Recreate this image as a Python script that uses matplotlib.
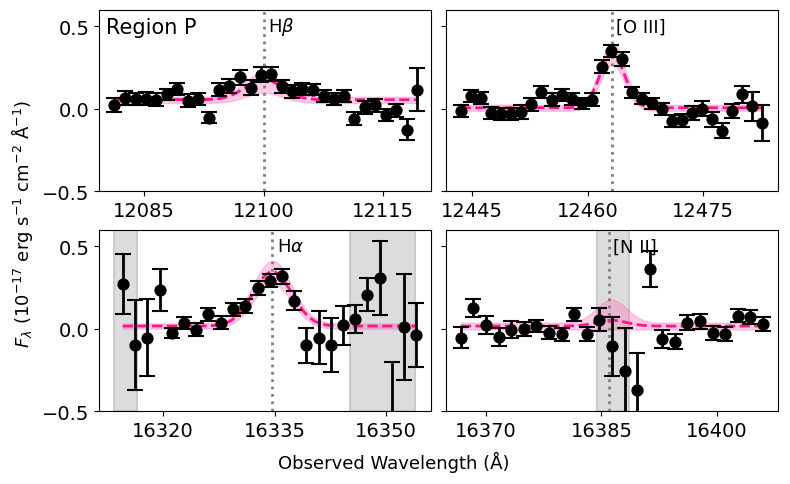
import numpy as np
import matplotlib
matplotlib.use('Agg')
import matplotlib.pyplot as plt

font_tick = 14
font_label = 13
font_line = 13

# ---- data ----
wave_hb = [12081.22, 12082.56, 12083.91, 12085.21, 12086.51, 12087.82, 12089.12, 12090.46,
           12091.76, 12093.11, 12094.41, 12095.71, 12097.06, 12098.36, 12099.66, 12100.97,
           12102.27, 12103.57, 12104.87, 12106.22, 12107.56, 12108.87, 12110.17, 12111.43,
           12112.73, 12114.03, 12115.38, 12116.68, 12117.98, 12119.33]
flux_hb = [0.024, 0.065, 0.06, 0.06, 0.056, 0.087, 0.121, 0.05, 0.06, -0.054, 0.115, 0.137,
           0.19, 0.127, 0.206, 0.21, 0.137, 0.107, 0.121, 0.117, 0.077, 0.06, 0.077, -0.06,
           0.01, 0.02, -0.04, -0.01, -0.127, 0.115]
err_hb = [0.043, 0.04, 0.037, 0.04, 0.04, 0.035, 0.036, 0.038, 0.035, 0.035, 0.04, 0.043,
          0.046, 0.046, 0.045, 0.043, 0.04, 0.04, 0.035, 0.035, 0.036, 0.036, 0.037, 0.038,
          0.04, 0.038, 0.037, 0.04, 0.063, 0.13]

wave_o3 = [12443.53, 12444.83, 12446.12, 12447.46, 12448.75, 12450.09, 12451.38, 12452.72,
           12454.01, 12455.34, 12456.64, 12457.93, 12459.22, 12460.52, 12461.81, 12463.10,
           12464.44, 12465.73, 12467.03, 12468.36, 12469.70, 12470.99, 12472.28, 12473.58,
           12474.87, 12476.16, 12477.46, 12478.75, 12480.04, 12481.34, 12482.63]
flux_o3 = [-0.014, 0.077, 0.065, -0.024, -0.03, -0.03, -0.02, 0.028, 0.1, 0.054, 0.085, 0.06,
           0.034, 0.054, 0.256, 0.349, 0.302, 0.1, 0.06, 0.034, 0.0, -0.075, -0.07, -0.026,
           0.0, -0.065, -0.133, -0.014, 0.087, 0.014, -0.085]
err_o3 = [0.035, 0.036, 0.037, 0.037, 0.037, 0.037, 0.04, 0.04, 0.036, 0.04, 0.035, 0.036,
          0.034, 0.04, 0.038, 0.036, 0.04, 0.035, 0.033, 0.034, 0.036, 0.035, 0.038, 0.045,
          0.047, 0.043, 0.045, 0.044, 0.05, 0.09, 0.11]

wave_ha = [16314.58, 16316.28, 16317.90, 16319.55, 16321.21, 16322.82, 16324.43, 16326.09,
           16327.75, 16329.40, 16331.06, 16332.72, 16334.33, 16335.94, 16337.64, 16339.26,
           16340.91, 16342.57, 16344.18, 16345.80, 16347.41, 16349.11, 16350.72, 16352.38,
           16354.03]
flux_ha = [0.27, -0.10, -0.054, 0.236, -0.026, 0.036, -0.006, 0.087, 0.036, 0.117, 0.137,
           0.246, 0.292, 0.319, 0.171, -0.10, -0.054, -0.10, 0.02, 0.06, 0.206, 0.31, -0.62,
           0.01, -0.04]
err_ha = [0.183, 0.274, 0.234, 0.128, 0.03, 0.038, 0.038, 0.04, 0.04, 0.041, 0.042, 0.043,
          0.04, 0.045, 0.056, 0.107, 0.16, 0.163, 0.12, 0.084, 0.1, 0.224, 0.42, 0.32, 0.195]

wave_n2 = [16366.76, 16368.40, 16370.09, 16371.69, 16373.33, 16374.97, 16376.57, 16378.21,
           16379.86, 16381.46, 16383.10, 16384.74, 16386.39, 16388.03, 16389.63, 16391.27,
           16392.91, 16394.56, 16396.16, 16397.80, 16399.44, 16401.09, 16402.73, 16404.33,
           16405.97]
flux_n2 = [-0.054, 0.125, 0.02, -0.05, -0.006, 0.0, 0.016, -0.024, -0.034, 0.087, -0.034,
           0.056, -0.107, -0.258, -0.373, 0.363, -0.06, -0.08, 0.036, 0.044, -0.026, -0.03,
           0.08, 0.07, 0.03]
err_n2 = [0.065, 0.055, 0.055, 0.052, 0.05, 0.043, 0.038, 0.04, 0.038, 0.04, 0.043, 0.07,
          0.18, 0.264, 0.226, 0.111, 0.055, 0.046, 0.046, 0.048, 0.043, 0.042, 0.04, 0.043,
          0.044]

line_names = [r'H$\beta$', '[O III]', r'H$\alpha$', '[N II]']
line_wave = [12100.0, 12463.2, 16334.7, 16386.0]
xlims = [(12079.3, 12121.0), (12441.7, 12484.7), (16311.4, 16355.95), (16364.9, 16407.9)]
xticks = [[12085, 12100, 12115], [12445, 12460, 12475], [16320, 16335, 16350], [16370, 16385, 16400]]

# gaussian fit: centre, sigma, continuum, amplitude (median, low, high)
fit_centre = [12100.0, 12463.2, 16334.7, 16386.3]
fit_sigma = [2.3, 1.6, 2.6, 2.0]
cont_med = [0.055, 0.006, 0.016, 0.016]
cont_lo = [0.035, -0.012, 0.0, -0.004]
cont_hi = [0.072, 0.024, 0.032, 0.036]
amp_med = [0.125, 0.327, 0.33, 0.035]
amp_lo = [0.062, 0.28, 0.27, 0.0]
amp_hi = [0.148, 0.376, 0.38, 0.14]

# masked regions (grey)
masks = [[], [], [(16313.42, 16316.55), (16345.08, 16353.81)], [(16384.48, 16388.55)]]

waves = [wave_hb, wave_o3, wave_ha, wave_n2]
fluxes = [flux_hb, flux_o3, flux_ha, flux_n2]
errs = [err_hb, err_o3, err_ha, err_n2]

fig, axes = plt.subplots(2, 2, figsize=(7.9, 4.85), dpi=100, sharey=True)
plt.subplots_adjust(left=0.1253, right=0.9848, top=0.9773, bottom=0.1505, wspace=0.048, hspace=0.215)
axes = axes.flatten()

for i in range(4):
    ax = axes[i]
    for lo, hi in masks[i]:
        ax.axvspan(lo, hi, facecolor='#dcdcdc', edgecolor='#c4c4c4', lw=1.2, zorder=0)
    xx = np.linspace(waves[i][0], waves[i][-1], 400)
    g = np.exp(-0.5 * ((xx - fit_centre[i]) / fit_sigma[i]) ** 2)
    ax.fill_between(xx, cont_lo[i] + amp_lo[i] * g, cont_hi[i] + amp_hi[i] * g,
                    color='hotpink', alpha=0.35, lw=1, zorder=1)
    ax.plot(xx, cont_med[i] + amp_med[i] * g, '--', color='deeppink', lw=2, zorder=2)
    ax.axvline(line_wave[i], color='gray', ls=':', lw=2, zorder=1)
    ax.annotate(line_names[i], (line_wave[i], 0.5), xytext=(3, 0), textcoords='offset points',
                va='center', ha='left', fontsize=font_line, zorder=1)
    ax.errorbar(waves[i], fluxes[i], yerr=errs[i], fmt='o', color='black', ms=7.8,
                elinewidth=2, capsize=5.5, capthick=1.5, zorder=3)
    ax.set_xlim(xlims[i])
    ax.set_xticks(xticks[i])
    ax.set_ylim(-0.5, 0.6)
    ax.set_yticks([-0.5, 0, 0.5])
    ax.tick_params(axis='both', labelsize=font_tick)

axes[0].text(0.02, 0.906, 'Region P', transform=axes[0].transAxes, fontsize=15, va='center')
fig.text(0.499, 0.047, 'Observed Wavelength (Å)', ha='center', va='center', fontsize=font_label)
fig.text(0.028, 0.538, r'$F_\lambda$ ($10^{-17}$ erg s$^{-1}$ cm$^{-2}$ Å$^{-1}$)',
         rotation=90, ha='center', va='center', fontsize=font_label)

plt.savefig('out.png', dpi=100)
